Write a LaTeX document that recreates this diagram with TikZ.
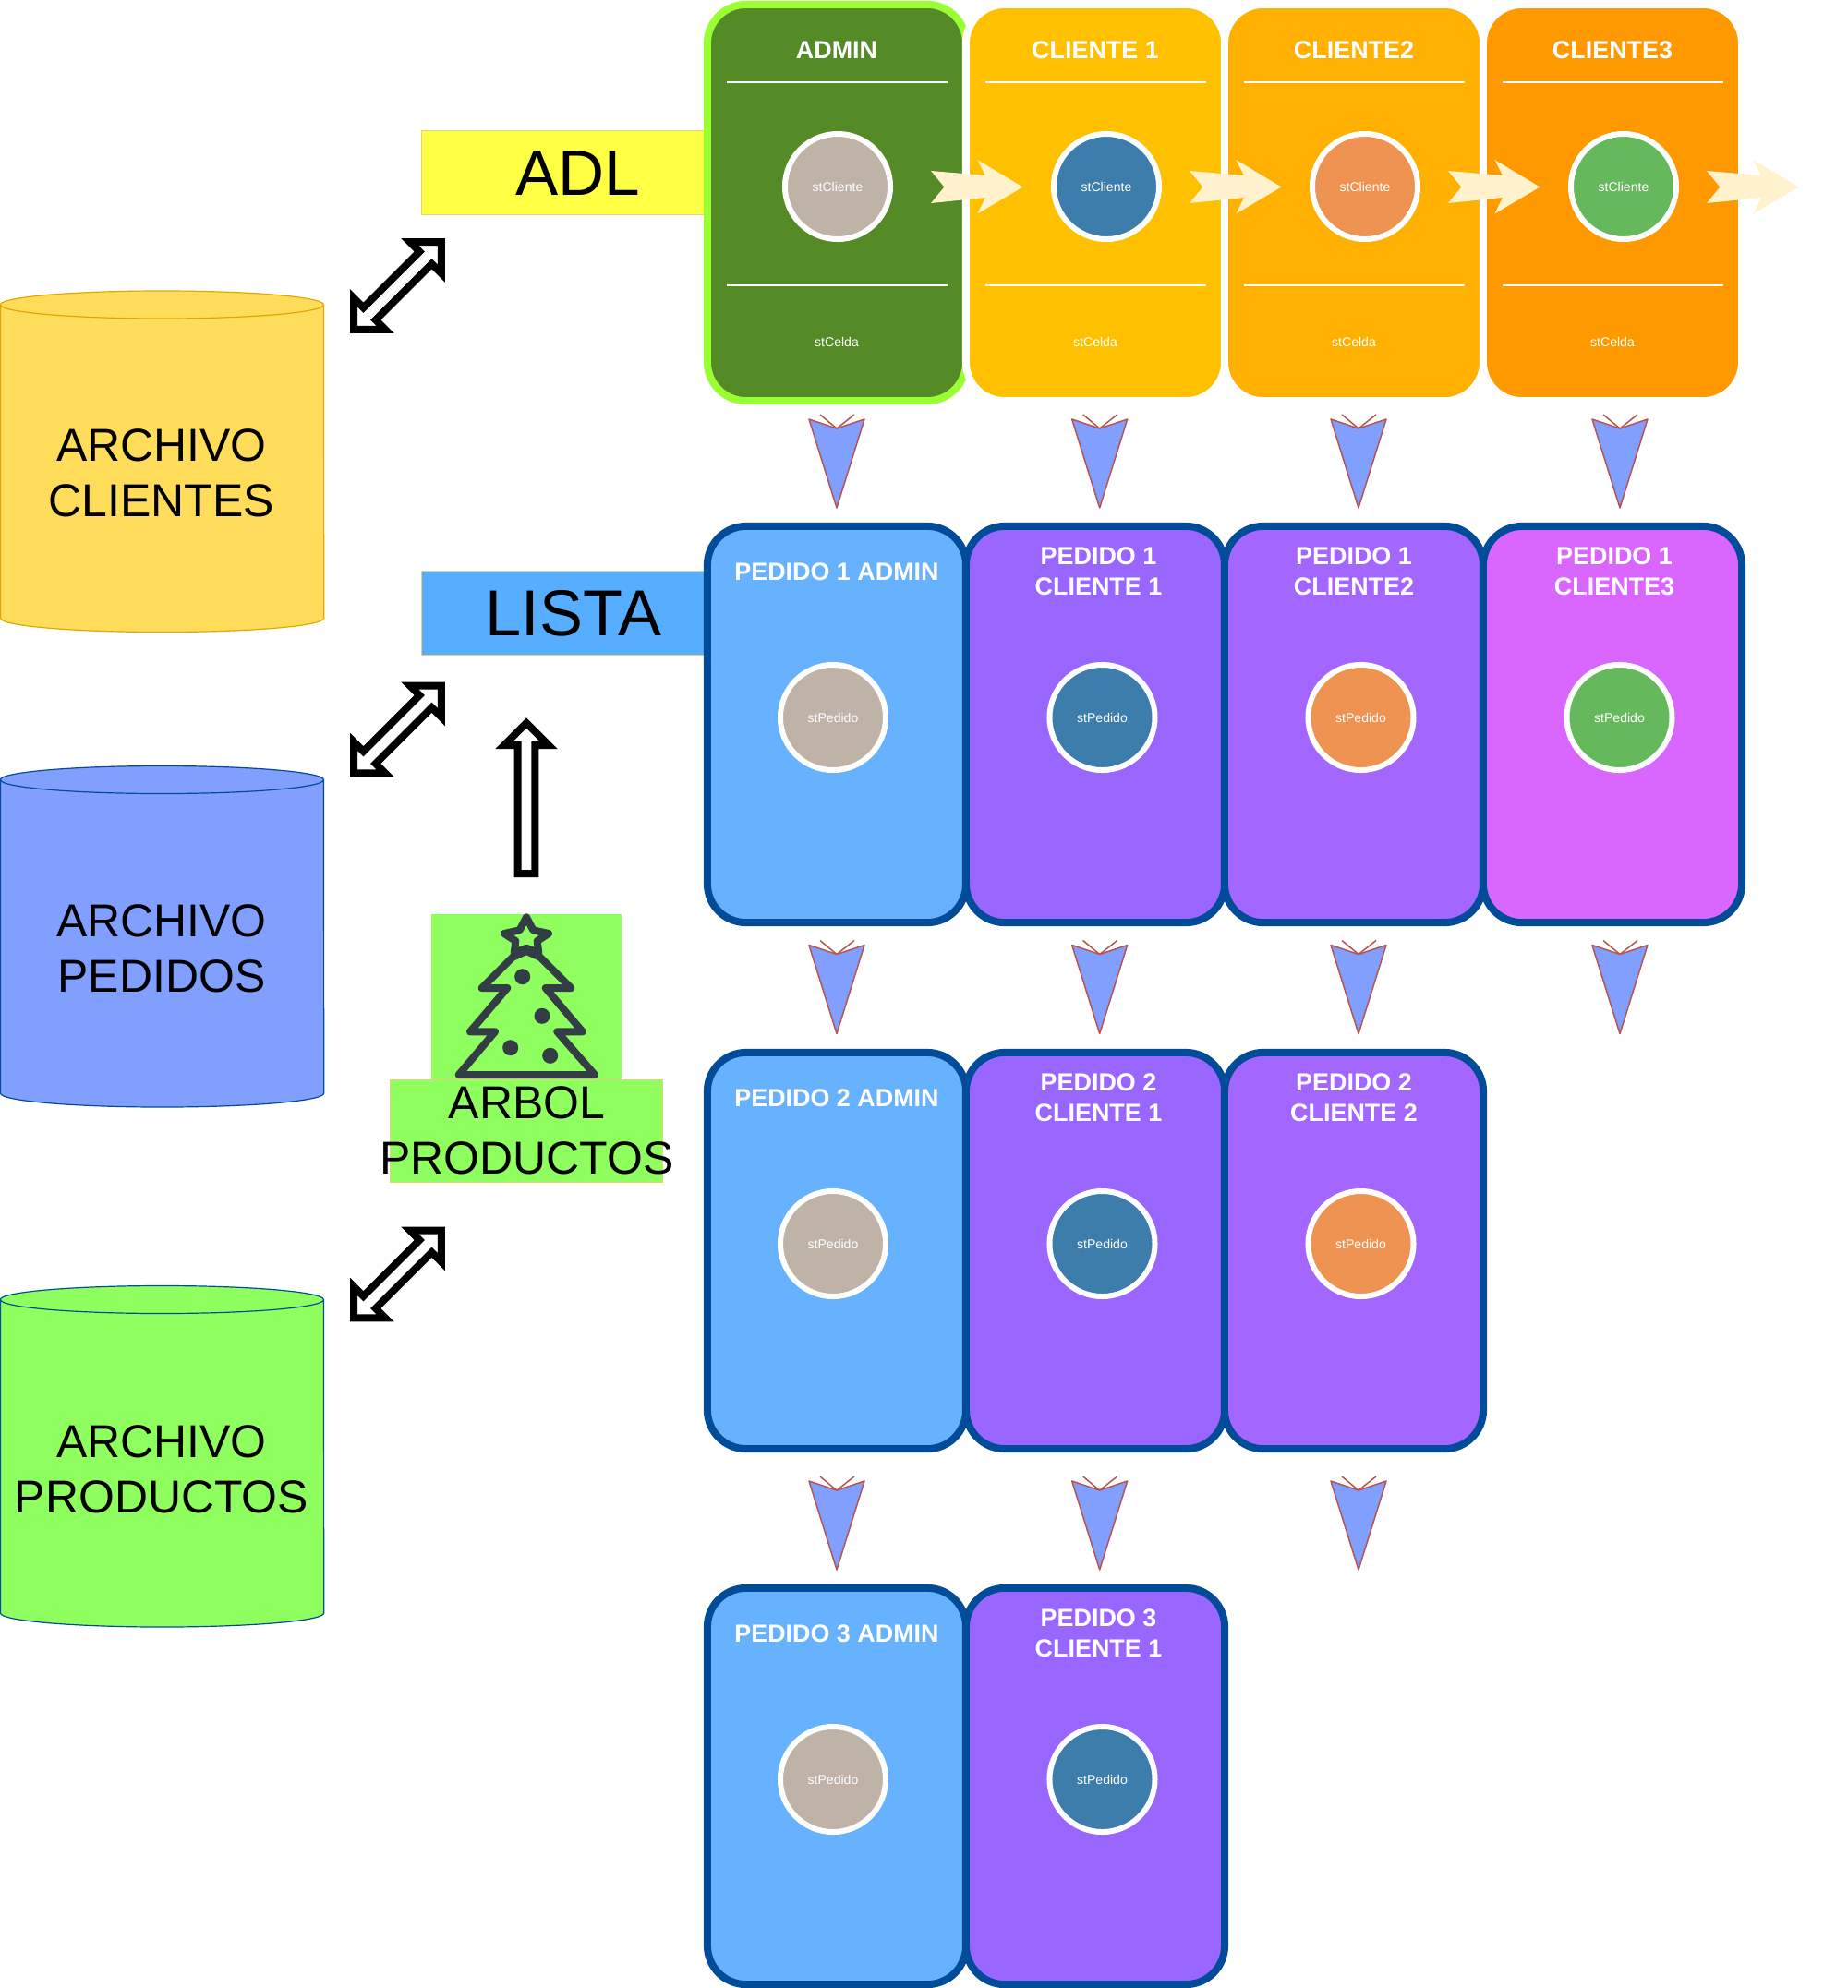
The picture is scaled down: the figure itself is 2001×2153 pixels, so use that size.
\documentclass[tikz,border=0pt]{standalone}
\usepackage{fontspec}
\setmainfont{Liberation Sans}
\usepackage{xcolor}
\usepackage{tikz}
\usetikzlibrary{positioning}
\definecolor{adminGreen}{HTML}{558B27}
\definecolor{adminEdge}{HTML}{99FF33}
\definecolor{cliOne}{HTML}{FFC000}
\definecolor{cliTwo}{HTML}{FFB000}
\definecolor{cliThree}{HTML}{FF9900}
\definecolor{pedBlue}{HTML}{66B2FF}
\definecolor{pedViolet}{HTML}{9966FF}
\definecolor{pedLilac}{HTML}{A366FF}
\definecolor{pedPink}{HTML}{D966FF}
\definecolor{pedEdge}{HTML}{004C99}
\definecolor{ballGrey}{HTML}{BFB3A8}
\definecolor{ballBlue}{HTML}{3D7DAB}
\definecolor{ballOrange}{HTML}{EE9352}
\definecolor{ballGreen}{HTML}{66B85C}
\definecolor{archYellow}{HTML}{FFDC5A}
\definecolor{archYellowEdge}{HTML}{E0A800}
\definecolor{archBlue}{HTML}{809FFF}
\definecolor{archGreen}{HTML}{8FFF5F}
\definecolor{adlYellow}{HTML}{FFFF44}
\definecolor{listaBlue}{HTML}{57ADFF}
\definecolor{tagEdge}{HTML}{E6D27A}
\definecolor{treeInk}{HTML}{333D45}
\definecolor{creamArrow}{HTML}{FFF2CC}
\definecolor{downEdge}{HTML}{B85450}
\begin{document}
\begin{tikzpicture}[x=0.01cm,y=-0.01cm,
  topcard/.style={draw=white, line width=.08cm, rounded corners=.42cm, minimum width=2.8cm, minimum height=4.29cm, inner sep=0pt},
  pedcard/.style={draw=pedEdge, line width=.08cm, rounded corners=.42cm, minimum width=2.8cm, minimum height=4.29cm, inner sep=0pt},
  ball/.style={circle, draw=white, line width=.06cm, minimum size=1.14cm, inner sep=0pt, text=white, text height=3.4pt, font=\fontsize{4}{5}\selectfont},
  title/.style={text=white, align=center, inner sep=0pt, font=\fontsize{7.65}{9.4}\selectfont\bfseries},
  small/.style={text=white, inner sep=0pt, font=\fontsize{4}{5}\selectfont},
  tag/.style={draw=tagEdge, line width=.01cm, inner sep=0pt},
  big/.style={inner sep=0pt, font=\fontsize{19.7}{23}\selectfont},
  mid/.style={align=center, inner sep=0pt, font=\fontsize{14.2}{17.1}\selectfont},
  fat/.style={draw=black, fill=white, line width=.08cm},
  cream/.style={fill=creamArrow},
  tree/.style={treeInk, line width=.08cm, line join=round},
  downarr/.style={draw=downEdge, fill=archBlue, line width=.015cm, line join=round}]
\useasboundingbox (0,0) rectangle (2001,2153);
% archivos
\foreach \cy/\cf/\cl/\nm/\txt/\ty in {330/archYellow/archYellowEdge/arcli/{ARCHIVO\\CLIENTES}/512.5,
    844.5/archBlue/pedEdge/arped/{ARCHIVO\\PEDIDOS}/1027,
    1407.5/archGreen/pedEdge/arpro/{ARCHIVO\\PRODUCTOS}/1591}{
  \draw[draw=\cl, fill=\cf, line width=.012cm] (.5,\cy) -- (.5,\cy+339.5)
    arc[start angle=180,end angle=360,x radius=1.75cm,y radius=.15cm] -- (350.5,\cy)
    arc[start angle=0,end angle=180,x radius=1.75cm,y radius=.15cm] -- cycle;
  \draw[draw=\cl, line width=.012cm] (.5,\cy) arc[start angle=180,end angle=360,x radius=1.75cm,y radius=.15cm];
  \node[mid] (\nm) at (175,\ty) {\txt};
}
% double arrows
\foreach \dy in {309.5,790,1380}{
  \begin{scope}[shift={(430.5,\dy)},rotate=45]
    \draw[fat] (67,0) -- (43,24) -- (43,9.4) -- (-43,9.4) -- (-43,24) -- (-67,0)
      -- (-43,-24) -- (-43,-9.4) -- (43,-9.4) -- (43,-24) -- cycle;
  \end{scope}
}
% tags
\node[tag, fill=adlYellow, minimum width=3.06cm, minimum height=.905cm] (adlbox) at (610,186.75) {};
\node[big] (adl) at (625.5,188) {ADL};
\node[tag, fill=listaBlue, minimum width=3.06cm, minimum height=.9cm] (listabox) at (610,664) {};
\node[big, font=\fontsize{20}{23}\selectfont] (lista) at (621,664) {LISTA};
% up arrow
\draw[fat] (570,783) -- (594,807) -- (579.4,807) -- (579.4,946) -- (560.6,946) -- (560.6,807) -- (546,807) -- cycle;
% tree
\node[fill=archGreen, minimum width=2.06cm, minimum height=1.8cm, inner sep=0pt] (treebox) at (570,1080) {};
\draw[tree]
  (570,993.3) -- (577.3,1007.3) -- (594,1011) -- (581.7,1019) -- (583.3,1032) -- (570,1026.7)
  -- (556.7,1032) -- (558.3,1019) -- (546,1011) -- (562.7,1007.3) -- cycle;
\draw[tree]
  (570,1030) -- (585,1036.7) -- (618.3,1070) -- (590.7,1070) -- (630.7,1117.3) -- (603.3,1117.3)
  -- (644,1164) -- (496.7,1164) -- (536,1117.3) -- (509,1117.3) -- (549.3,1070)
  -- (521.7,1070) -- (555,1036.7) -- cycle;
\foreach \bx/\by in {565.7/1057.7,587/1100.3,552.7/1134.7,595.7/1143.3}{
  \fill[treeInk] (\bx,\by) circle[radius=.085cm];
}
\node[tag, fill=archGreen, minimum width=2.94cm, minimum height=1.1cm] (arbolbox) at (570,1225) {};
\node[mid] (arbol) at (570.5,1224) {ARBOL\\PRODUCTOS};
% top row
\node[draw=adminEdge, fill=adminGreen, line width=.08cm, rounded corners=.42cm, minimum width=2.8cm, minimum height=4.29cm, inner sep=0pt] (c0) at (906,219.5) {};
\foreach \i/\cf in {1/cliOne,2/cliTwo,3/cliThree}{
  \node[topcard, fill=\cf] (c\i) at (906+280*\i,219.5) {};
}
\foreach \i/\txt/\tx/\bx/\bf in {0/ADMIN/906/907/ballGrey,1/CLIENTE 1/1186/1198/ballBlue,
    2/CLIENTE2/1466/1478/ballOrange,3/CLIENTE3/1746/1758/ballGreen}{
  \node[title] (t\i) at (\tx,54) {\txt};
  \draw[white, line width=.02cm] (787+280*\i,89) -- (1026+280*\i,89);
  \draw[white, line width=.02cm] (787+280*\i,309) -- (1026+280*\i,309);
  \node[ball, fill=\bf] (b\i) at (\bx,202) {stCliente};
  \node[small] (s\i) at (906+280*\i,370) {stCelda};
  % cream arrows
  \fill[cream, shift={(280*\i,0)}] (1008,185) -- (1022.4,202.5) -- (1008,220) -- (1067,214)
    -- (1058.4,231.5) -- (1107.4,202.5) -- (1058.4,173) -- (1067,190) -- cycle;
}
% pedidos
\foreach \r/\dy in {1/0,2/570,3/1150}{
  \node[pedcard, fill=pedBlue] (p\r a) at (906,784.5+\dy) {};
  \node[title] (tp\r a) at (906,619.5+\dy) {PEDIDO \r{} ADMIN};
  \node[ball, fill=ballGrey] (bp\r a) at (902,777+\dy) {stPedido};
}
\foreach \r/\dy/\x/\tx/\bx/\cf/\bf/\txt in {
    1/0/1186/1189.5/1193.5/pedViolet/ballBlue/{PEDIDO 1\\CLIENTE 1},
    1/0/1466/1466/1473.5/pedLilac/ballOrange/{PEDIDO 1\\CLIENTE2},
    1/0/1746/1748/1753.5/pedPink/ballGreen/{PEDIDO 1\\CLIENTE3},
    2/570/1186/1189.5/1193.5/pedViolet/ballBlue/{PEDIDO 2\\CLIENTE 1},
    2/570/1466/1466/1473.5/pedLilac/ballOrange/{PEDIDO 2\\CLIENTE 2},
    3/1150/1186/1189.5/1193.5/pedViolet/ballBlue/{PEDIDO 3\\CLIENTE 1}}{
  \node[pedcard, fill=\cf] (p\r\x) at (\x,784.5+\dy) {};
  \node[title] (tp\r\x) at (\tx,618.5+\dy) {\txt};
  \node[ball, fill=\bf] (bp\r\x) at (\bx,777+\dy) {stPedido};
}
% down arrows
\foreach \ax/\ay in {906/0,1190.7/0,1471/0,1754/0,906/569.5,1190.7/569.5,1471/569.5,1754/569.5,906/1150,1190.7/1150,1471/1150}{
  \begin{scope}[shift={(\ax-906,\ay)}]
    \draw[downarr] (876,454) -- (906,464) -- (936,454) -- (906,550) -- cycle;
    \draw[downarr, fill=none] (888,449) -- (906,464) -- (925,449);
  \end{scope}
}
\end{tikzpicture}
\end{document}
